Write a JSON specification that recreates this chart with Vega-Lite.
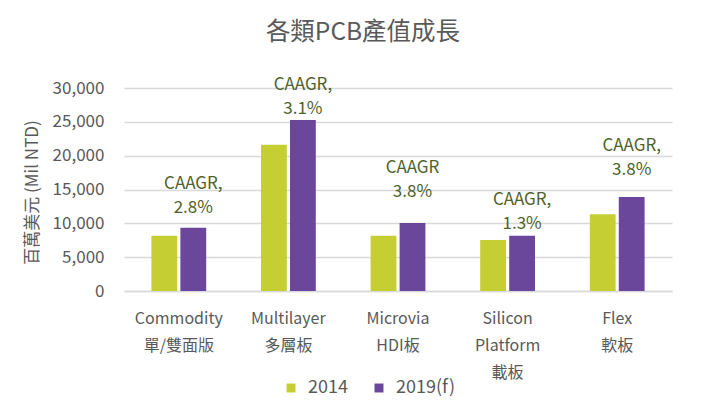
{
  "$schema": "https://vega.github.io/schema/vega-lite/v6.json",
  "width": 548,
  "height": 203,
  "autosize": "none",
  "padding": {"left": 124, "top": 88, "right": 51, "bottom": 116},
  "background": "white",
  "config": {
    "font": "Noto Sans CJK TC",
    "view": {"stroke": null}
  },
  "title": {
    "text": "各類PCB產值成長",
    "fontSize": 24.5,
    "fontWeight": "normal",
    "color": "#595959",
    "offset": 30,
    "dx": -35,
    "anchor": "middle"
  },
  "datasets": {
    "bars": [
      {"category": "Commodity|單/雙面版", "year": "2014", "value": 8170},
      {"category": "Commodity|單/雙面版", "year": "2019(f)", "value": 9350},
      {"category": "Multilayer|多層板", "year": "2014", "value": 21620},
      {"category": "Multilayer|多層板", "year": "2019(f)", "value": 25270},
      {"category": "Microvia|HDI板", "year": "2014", "value": 8170},
      {"category": "Microvia|HDI板", "year": "2019(f)", "value": 10050},
      {"category": "Silicon|Platform|載板", "year": "2014", "value": 7540},
      {"category": "Silicon|Platform|載板", "year": "2019(f)", "value": 8170},
      {"category": "Flex|軟板", "year": "2014", "value": 11330},
      {"category": "Flex|軟板", "year": "2019(f)", "value": 13890}
    ],
    "notes": [
      {"category": "Commodity|單/雙面版", "year": "2019(f)", "at": 15800, "label": ["CAAGR,", "2.8%"]},
      {"category": "Multilayer|多層板", "year": "2019(f)", "at": 30500, "label": ["CAAGR,", "3.1%"]},
      {"category": "Microvia|HDI板", "year": "2019(f)", "at": 18150, "label": ["CAAGR", "3.8%"]},
      {"category": "Silicon|Platform|載板", "year": "2019(f)", "at": 13400, "label": ["CAAGR,", "1.3%"]},
      {"category": "Flex|軟板", "year": "2019(f)", "at": 21400, "label": ["CAAGR,", "3.8%"]}
    ]
  },
  "layer": [
    {
      "data": {"name": "bars"},
      "mark": {"type": "bar"},
      "encoding": {
        "x": {
          "field": "category",
          "type": "nominal",
          "sort": null,
          "scale": {"paddingInner": 0.5, "paddingOuter": 0.25},
          "axis": {
            "title": null,
            "labelExpr": "split(datum.label, '|')",
            "labelAngle": 0,
            "labelFontSize": 16,
            "labelColor": "#595959",
            "labelLineHeight": 27,
            "labelPadding": 19,
            "labelBaseline": "top",
            "ticks": false,
            "domainColor": "#D9D9D9",
            "domainWidth": 1.5
          }
        },
        "xOffset": {
          "field": "year",
          "type": "nominal",
          "scale": {"paddingInner": 0.11, "paddingOuter": 0}
        },
        "y": {
          "field": "value",
          "type": "quantitative",
          "scale": {"domain": [0, 30000], "nice": false},
          "axis": {
            "title": "百萬美元 (Mil NTD)",
            "titleFontSize": 17,
            "titleFontWeight": "normal",
            "titleColor": "#595959",
            "titleX": -92,
            "titleY": 104,
            "titleAlign": "center",
            "titleBaseline": "middle",
            "values": [0, 5000, 10000, 15000, 20000, 25000, 30000],
            "labelOverlap": false,
            "format": ",d",
            "labelFontSize": 17,
            "labelColor": "#595959",
            "labelPadding": 20,
            "ticks": false,
            "domain": false,
            "gridColor": "#D9D9D9",
            "gridWidth": 1.5
          }
        },
        "color": {
          "field": "year",
          "type": "nominal",
          "scale": {"domain": ["2014", "2019(f)"], "range": ["#C5CE33", "#6B479B"]},
          "legend": {
            "title": null,
            "orient": "none",
            "direction": "horizontal",
            "legendX": 158,
            "legendY": 291,
            "symbolType": "square",
            "symbolSize": 80,
            "symbolStrokeWidth": 0,
            "labelFontSize": 18,
            "labelColor": "#595959",
            "columnPadding": 22,
            "labelOffset": 8
          }
        }
      }
    },
    {
      "data": {"name": "notes"},
      "mark": {"type": "text", "fontSize": 17, "color": "#4F6228", "baseline": "middle", "lineHeight": 24, "align": "center"},
      "encoding": {
        "x": {"field": "category", "type": "nominal", "sort": null},
        "xOffset": {"field": "year", "type": "nominal"},
        "y": {
          "field": "at",
          "type": "quantitative",
          "axis": {
            "title": "百萬美元 (Mil NTD)",
            "titleFontSize": 17,
            "titleFontWeight": "normal",
            "titleColor": "#595959",
            "titleX": -92,
            "titleY": 104,
            "titleAlign": "center",
            "titleBaseline": "middle",
            "values": [0, 5000, 10000, 15000, 20000, 25000, 30000],
            "labelOverlap": false,
            "format": ",d",
            "labelFontSize": 17,
            "labelColor": "#595959",
            "labelPadding": 20,
            "ticks": false,
            "domain": false,
            "gridColor": "#D9D9D9",
            "gridWidth": 1.5
          }
        },
        "text": {"field": "label"}
      }
    }
  ]
}
